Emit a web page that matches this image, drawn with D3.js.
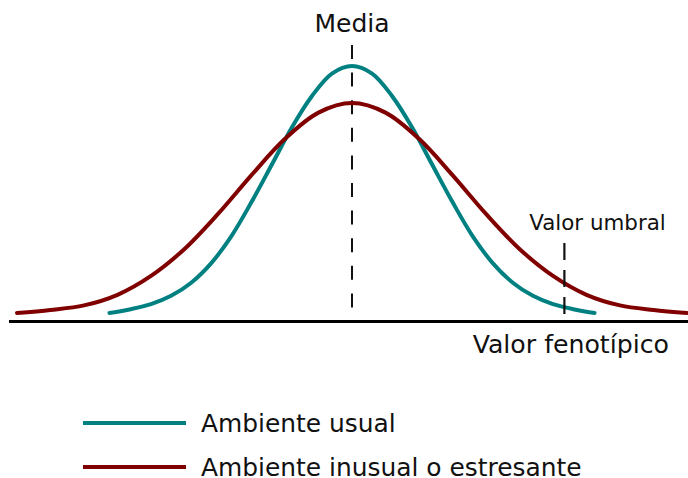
<!DOCTYPE html>
<html>
<head>
<meta charset="utf-8">
<script src="https://cdn.jsdelivr.net/npm/d3@7"></script>
<style>
  body { margin: 0; background: #fff; }
  text { font-family: "DejaVu Sans", sans-serif; fill: #111; }
</style>
</head>
<body>
<svg width="688" height="478"></svg>
<script>
// phenotype values (0 = mean) and relative density
var usualX = [-3.62, -3.3, -3, -2.7, -2.4, -2.1, -1.8, -1.5, -1.2, -0.9, -0.6, -0.3, 0,
              0.3, 0.6, 0.9, 1.2, 1.5, 1.8, 2.1, 2.4, 2.7, 3, 3.3, 3.62];
var usualY = [0.02, 0.035, 0.055, 0.088, 0.14, 0.218, 0.325, 0.46, 0.607, 0.755, 0.88, 0.97, 1,
              0.97, 0.88, 0.755, 0.607, 0.46, 0.325, 0.218, 0.14, 0.088, 0.055, 0.035, 0.02];

var stressX = [-5, -4.5, -4, -3.5, -3, -2.5, -2, -1.5, -1, -0.5, 0,
               0.5, 1, 1.5, 2, 2.5, 3, 3.5, 4, 4.5, 5];
var stressY = [0.02, 0.032, 0.05, 0.092, 0.167, 0.274, 0.413, 0.567, 0.711, 0.815, 0.853,
               0.815, 0.711, 0.567, 0.413, 0.274, 0.167, 0.092, 0.05, 0.032, 0.02];

var meanValue = 0;
var thresholdValue = 3.17;

var seriesNames = ["Ambiente usual", "Ambiente inusual o estresante"];
var seriesColors = ["#008080", "#800000"];

var svg = d3.select("svg"),
    width = +svg.attr("width"),
    height = +svg.attr("height");

var x = d3.scaleLinear()
    .domain([-5, 5])
    .range([17, 687]);

var y = d3.scaleLinear()
    .domain([0, 1])
    .range([318, 66]);

var line = d3.line()
    .x(function(d) { return x(d[0]); })
    .y(function(d) { return y(d[1]); })
    .curve(d3.curveCatmullRom.alpha(0.5));

var series = [
    d3.zip(usualX, usualY),
    d3.zip(stressX, stressY)
];

// mean line (behind the curves)
svg.append("line")
    .attr("x1", x(meanValue))
    .attr("x2", x(meanValue))
    .attr("y1", 45)
    .attr("y2", 308)
    .attr("stroke", "#111")
    .attr("stroke-width", 2)
    .attr("stroke-dasharray", "14,13.6");

svg.append("text")
    .attr("x", x(meanValue))
    .attr("y", 32)
    .attr("text-anchor", "middle")
    .attr("font-size", 25)
    .text("Media");

// curves
svg.selectAll("path.curve")
    .data(series)
    .enter().append("path")
    .attr("class", "curve")
    .attr("d", line)
    .attr("fill", "none")
    .attr("stroke", function(d, i) { return seriesColors[i]; })
    .attr("stroke-width", 4)
    .attr("stroke-linecap", "round");

// threshold
svg.append("line")
    .attr("x1", x(thresholdValue))
    .attr("x2", x(thresholdValue))
    .attr("y1", 243)
    .attr("y2", 318)
    .attr("stroke", "#111")
    .attr("stroke-width", 2.2)
    .attr("stroke-dasharray", "17,10");

svg.append("text")
    .attr("x", 597.5)
    .attr("y", 230)
    .attr("text-anchor", "middle")
    .attr("font-size", 21.4)
    .text("Valor umbral");

// phenotype axis
svg.append("line")
    .attr("x1", 9)
    .attr("x2", 688)
    .attr("y1", 321.5)
    .attr("y2", 321.5)
    .attr("stroke", "#000")
    .attr("stroke-width", 3);

svg.append("text")
    .attr("x", 669)
    .attr("y", 353)
    .attr("text-anchor", "end")
    .attr("font-size", 25.2)
    .text("Valor fenotípico");

// legend
var legend = svg.append("g")
    .selectAll("g")
    .data(seriesNames)
    .enter().append("g")
    .attr("transform", function(d, i) { return "translate(0," + (423 + i * 44) + ")"; });

legend.append("line")
    .attr("x1", 83)
    .attr("x2", 186)
    .attr("stroke", function(d, i) { return seriesColors[i]; })
    .attr("stroke-width", 4);

legend.append("text")
    .attr("x", 201)
    .attr("y", 8.5)
    .attr("font-size", 24.9)
    .text(function(d) { return d; });
</script>
</body>
</html>
